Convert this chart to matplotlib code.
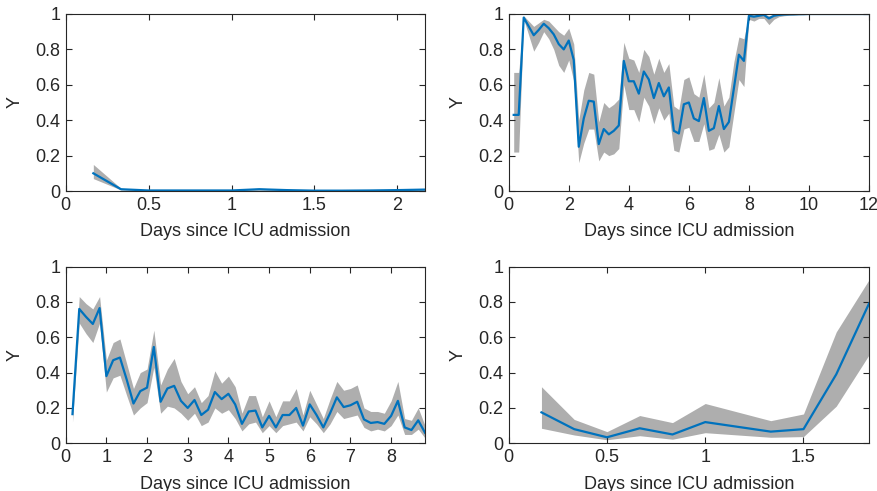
import numpy as np
import matplotlib
matplotlib.use("Agg")
import matplotlib.pyplot as plt

plt.rcParams['font.family'] = ['Liberation Sans', 'DejaVu Sans']

# ---- Panel A (top-left) ----
a_mean = [0.10, 0.010, 0.003, 0.003, 0.003, 0.003, 0.010, 0.005, 0.002, 0.002, 0.003, 0.005, 0.008]
a_up   = [0.15, 0.015, 0.006, 0.006, 0.006, 0.006, 0.016, 0.009, 0.005, 0.005, 0.006, 0.009, 0.013]
a_lo   = [0.07, 0.006, 0.001, 0.001, 0.001, 0.001, 0.005, 0.002, 0.000, 0.000, 0.001, 0.002, 0.004]

# ---- Panel B (top-right) ----
b_mean = [0.43, 0.43, 0.98, 0.93, 0.88, 0.91, 0.945, 0.92, 0.885, 0.83, 0.80, 0.85,
          0.74, 0.25, 0.41, 0.51, 0.505, 0.265, 0.35, 0.32, 0.34, 0.37, 0.735, 0.62,
          0.62, 0.55, 0.675, 0.63, 0.525, 0.61, 0.535, 0.585, 0.34, 0.325, 0.49, 0.50,
          0.41, 0.395, 0.525, 0.34, 0.355, 0.48, 0.35, 0.39, 0.58, 0.77, 0.735, 0.99,
          0.985, 0.99, 0.995, 0.975, 0.99, 0.995, 0.997, 0.998, 0.998, 0.999, 0.999, 1.0,
          1.0, 1.0, 1.0, 1.0, 1.0, 1.0, 1.0, 1.0, 1.0, 1.0, 1.0, 1.0]
b_up   = [0.67, 0.67, 0.99, 0.96, 0.93, 0.95, 0.97, 0.96, 0.93, 0.90, 0.88, 0.92,
          0.83, 0.40, 0.57, 0.67, 0.66, 0.39, 0.50, 0.47, 0.49, 0.52, 0.84, 0.75,
          0.74, 0.67, 0.80, 0.76, 0.66, 0.75, 0.67, 0.72, 0.48, 0.46, 0.63, 0.645,
          0.55, 0.53, 0.66, 0.47, 0.50, 0.64, 0.48, 0.53, 0.73, 0.87, 0.86, 1.0,
          0.995, 0.998, 1.0, 0.99, 0.998, 1.0, 1.0, 1.0, 1.0, 1.0, 1.0, 1.0,
          1.0, 1.0, 1.0, 1.0, 1.0, 1.0, 1.0, 1.0, 1.0, 1.0, 1.0, 1.0]
b_lo   = [0.22, 0.22, 0.97, 0.88, 0.79, 0.84, 0.90, 0.86, 0.80, 0.71, 0.67, 0.74,
          0.62, 0.16, 0.27, 0.35, 0.35, 0.17, 0.22, 0.20, 0.21, 0.24, 0.60, 0.46,
          0.46, 0.39, 0.53, 0.48, 0.38, 0.47, 0.40, 0.44, 0.23, 0.22, 0.35, 0.36,
          0.28, 0.28, 0.38, 0.23, 0.24, 0.32, 0.22, 0.25, 0.44, 0.63, 0.59, 0.97,
          0.96, 0.975, 0.975, 0.94, 0.97, 0.985, 0.99, 0.993, 0.995, 0.996, 0.997, 0.998,
          0.998, 0.999, 0.999, 0.999, 1.0, 1.0, 1.0, 1.0, 1.0, 1.0, 1.0, 1.0]

# ---- Panel C (bottom-left) ----
c_mean = [0.165, 0.76, 0.715, 0.675, 0.765, 0.38, 0.47, 0.485, 0.36, 0.225, 0.295, 0.315,
          0.545, 0.235, 0.31, 0.325, 0.24, 0.20, 0.245, 0.16, 0.19, 0.29, 0.25, 0.28,
          0.22, 0.11, 0.18, 0.185, 0.09, 0.155, 0.09, 0.16, 0.16, 0.20, 0.10, 0.22,
          0.16, 0.09, 0.17, 0.26, 0.205, 0.215, 0.235, 0.135, 0.115, 0.12, 0.11, 0.155,
          0.24, 0.09, 0.075, 0.13, 0.06]
c_up   = [0.20, 0.83, 0.79, 0.76, 0.83, 0.47, 0.57, 0.59, 0.45, 0.31, 0.40, 0.42,
          0.64, 0.33, 0.42, 0.48, 0.35, 0.28, 0.32, 0.23, 0.27, 0.41, 0.34, 0.38,
          0.32, 0.17, 0.27, 0.27, 0.15, 0.24, 0.15, 0.24, 0.24, 0.31, 0.16, 0.30,
          0.22, 0.14, 0.25, 0.35, 0.30, 0.31, 0.33, 0.20, 0.18, 0.18, 0.17, 0.24,
          0.35, 0.14, 0.13, 0.20, 0.10]
c_lo   = [0.12, 0.68, 0.62, 0.57, 0.68, 0.29, 0.37, 0.385, 0.27, 0.16, 0.20, 0.23,
          0.43, 0.17, 0.21, 0.20, 0.17, 0.13, 0.17, 0.10, 0.12, 0.20, 0.17, 0.19,
          0.14, 0.07, 0.11, 0.12, 0.06, 0.10, 0.06, 0.10, 0.11, 0.12, 0.07, 0.15,
          0.11, 0.06, 0.11, 0.18, 0.14, 0.15, 0.16, 0.09, 0.07, 0.08, 0.07, 0.10,
          0.16, 0.05, 0.05, 0.08, 0.03]

# ---- Panel D (bottom-right) ----
d_days = [1/6, 2/6, 3/6, 4/6, 5/6, 6/6, 8/6, 9/6, 10/6, 11/6]
d_mean = [0.175, 0.08, 0.034, 0.085, 0.05, 0.12, 0.066, 0.08, 0.39, 0.79]
d_up   = [0.32, 0.135, 0.066, 0.157, 0.117, 0.225, 0.128, 0.166, 0.63, 0.925]
d_lo   = [0.085, 0.047, 0.02, 0.043, 0.023, 0.06, 0.034, 0.038, 0.21, 0.50]

# 4-hour sampling grid (days since admission)
a_days = np.arange(1, len(a_mean) + 1) / 6
b_days = np.arange(1, len(b_mean) + 1) / 6
c_days = np.arange(1, len(c_mean) + 1) / 6

panels = [
    (a_days, a_mean, a_up, a_lo, 13/6, [0, 0.5, 1, 1.5, 2], ['0', '0.5', '1', '1.5', '2']),
    (b_days, b_mean, b_up, b_lo, 12, [0, 2, 4, 6, 8, 10, 12], ['0', '2', '4', '6', '8', '10', '12']),
    (c_days, c_mean, c_up, c_lo, 53/6, list(range(9)), [str(i) for i in range(9)]),
    (d_days, d_mean, d_up, d_lo, 11/6, [0, 0.5, 1, 1.5], ['0', '0.5', '1', '1.5']),
]

W, H = 877, 491
fig = plt.figure(figsize=(W/100, H/100), dpi=100)
lefts = [65.7, 508.7]
rights = [425.0, 869.0]
tops = [14.0, 266.5]
bottoms = [191.0, 443.3]

line_col = '#0072BD'
band_col = '#AEAEAE'
ax_col = '#262626'

yt = [0, 0.2, 0.4, 0.6, 0.8, 1]
ytl = ['0', '0.2', '0.4', '0.6', '0.8', '1']

for i, (x, m, up, lo, xmax, xt, xtl) in enumerate(panels):
    r, c = divmod(i, 2)
    l = lefts[c] / W
    w = (rights[c] - lefts[c]) / W
    b = 1 - bottoms[r] / H
    h = (bottoms[r] - tops[r]) / H
    ax = fig.add_axes([l, b, w, h])
    ax.fill_between(x, lo, up, color=band_col, lw=0)
    ax.plot(x, m, color=line_col, lw=1.6)
    ax.set_xlim(0, xmax)
    ax.set_ylim(0, 1)
    ax.set_xticks(xt)
    ax.set_xticklabels(xtl)
    ax.set_yticks(yt)
    ax.set_yticklabels(ytl)
    ax.tick_params(direction='in', top=True, right=True, length=4, width=0.8,
                   colors=ax_col, labelsize=13, pad=4)
    for s in ax.spines.values():
        s.set_color(ax_col)
        s.set_linewidth(0.8)
    ax.set_xlabel('Days since ICU admission', fontsize=13, color=ax_col, labelpad=7)
    ax.set_ylabel('Y', fontsize=13, color=ax_col, labelpad=8)

fig.savefig('out.png', dpi=100)
